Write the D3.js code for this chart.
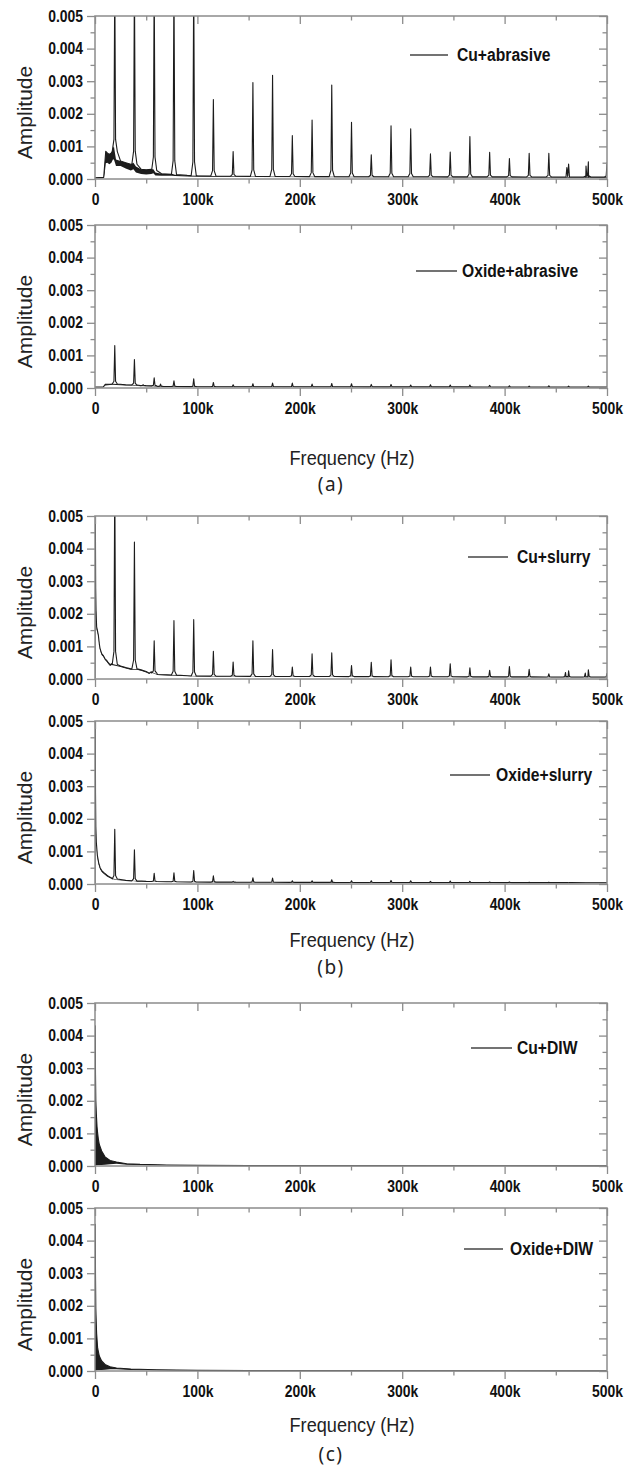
<!DOCTYPE html>
<html>
<head>
<meta charset="utf-8">
<script src="https://cdn.jsdelivr.net/npm/d3@7"></script>
<style>
  body { margin: 0; background: #fff; }
  svg { display: block; }
</style>
</head>
<body>
<script>
// Axis ticks and labels
const xTicks = [0, 100, 200, 300, 400, 500]              // kHz
const xTickLabels = ["0", "100k", "200k", "300k", "400k", "500k"]
const xMinorTicks = [50, 150, 250, 350, 450]
const yTicks = [0, 0.001, 0.002, 0.003, 0.004, 0.005]
const yTickLabels = ["0.000", "0.001", "0.002", "0.003", "0.004", "0.005"]
const yMinorTicks = [0.0005, 0.0015, 0.0025, 0.0035, 0.0045]

const seriesNames = ["Cu+abrasive", "Oxide+abrasive", "Cu+slurry", "Oxide+slurry", "Cu+DIW", "Oxide+DIW"]
const groupLabels = ["(a)", "(b)", "(c)"]

// Peak frequencies (kHz)
const harmonicFreqs = [19.3, 38.5, 57.8, 77.1, 96.4, 115.6, 134.9, 154.2, 173.4, 192.7, 212.0, 231.2, 250.5,
                       269.8, 289.1, 308.3, 327.6, 346.9, 366.1, 385.4, 404.7, 424.0, 443.2, 462.5, 481.8, 500.0]

// Peak amplitudes at those frequencies (values above 0.005 run off the top of the plot)
const cuAbrasivePeaks = [0.0062, 0.0062, 0.0062, 0.0062, 0.0062, 0.00244, 0.00084, 0.00296, 0.00318, 0.00133, 0.00181, 0.00288, 0.00174,
                         0.00074, 0.00163, 0.00154, 0.00077, 0.00083, 0.0013, 0.00082, 0.00063, 0.00079, 0.00079, 0.00046, 0.00053, 0.0005]
const oxideAbrasivePeaks = [0.0013, 0.00087, 0.00031, 0.00022, 0.00028, 0.00017, 0.0001, 0.00013, 0.00015, 0.00015, 0.00012, 0.00014, 0.00013,
                            0.00011, 0.00011, 0.00009, 0.0001, 0.00009, 0.00009, 0.00008, 0.00007, 0.00006, 0.00007, 0.00006, 0.00006, 0.00004]
const cuSlurryPeaks = [0.0062, 0.0042, 0.00117, 0.00179, 0.00182, 0.00085, 0.00052, 0.00117, 0.0009, 0.00037, 0.00077, 0.0008, 0.00041,
                       0.00051, 0.00059, 0.00037, 0.00037, 0.00047, 0.00034, 0.00027, 0.00038, 0.0003, 0.00016, 0.00025, 0.00028, 0.00017]
const oxideSlurryPeaks = [0.00168, 0.00105, 0.00033, 0.00034, 0.00041, 0.00025, 0.00008, 0.00019, 0.00018, 0.0001, 0.0001, 0.00013, 0.0001,
                          0.0001, 0.00011, 0.0001, 0.00008, 0.00009, 0.00008, 0.00006, 0.00006, 0.00005, 0.00005, 0.00004, 0.00004, 0.00004]
const noPeaks = []

// Side peaks [kHz, amplitude]
const cuAbrasiveSide = [[460.8, 0.00035], [479.5, 0.0004]]
const oxideAbrasiveSide = [[47, 0.0001], [64, 0.00012]]
const cuSlurrySide = [[459.5, 0.0002], [478.8, 0.00018]]

// Noise floor between peaks: [kHz, lower edge, upper edge]
const cuAbrasiveFloor = [
  [0, 0.00002, 0.00004], [8.5, 0.00002, 0.00005], [9.6, 0.0002, 0.0005], [10.5, 0.00048, 0.00085],
  [12, 0.0005, 0.0008], [14, 0.00045, 0.00075], [16, 0.0005, 0.0008], [17.5, 0.0006, 0.00095],
  [18.5, 0.0006, 0.001], [20.5, 0.0004, 0.0006], [25, 0.0004, 0.00055], [30, 0.00032, 0.0005],
  [35, 0.00026, 0.00045], [37.5, 0.0003, 0.0005], [40, 0.0002, 0.00038], [45, 0.00015, 0.0003],
  [50, 0.00014, 0.00028], [55, 0.00015, 0.0003], [57, 0.00018, 0.0003], [59, 0.00011, 0.0002],
  [65, 0.0001, 0.00016], [75, 0.0001, 0.00016], [78, 0.00009, 0.00013], [90, 0.00008, 0.00011],
  [100, 0.00007, 0.0001], [150, 0.00006, 0.00008], [250, 0.00005, 0.00007], [500, 0.00004, 0.00006]
]
const oxideAbrasiveFloor = [
  [0, 0.00002, 0.00003], [8, 0.00002, 0.00003], [10, 0.00008, 0.00011], [17, 0.0001, 0.00013],
  [21, 0.00009, 0.00012], [30, 0.00008, 0.0001], [37, 0.00008, 0.0001], [41, 0.00006, 0.00008],
  [50, 0.00005, 0.00007], [57, 0.00005, 0.00007], [60, 0.00004, 0.00005], [100, 0.00003, 0.00004],
  [500, 0.00002, 0.00003]
]
const cuSlurryFloor = [
  [0, 0.00002, 0.00002], [0.25, 0.0058, 0.0058], [0.65, 0.0027, 0.0028], [1.0, 0.002, 0.0021],
  [1.6, 0.0015, 0.0016], [2.3, 0.00145, 0.0015], [3.3, 0.0013, 0.00134], [4.2, 0.00104, 0.00108],
  [4.9, 0.0009, 0.00094], [6.5, 0.00074, 0.00078], [8.1, 0.00068, 0.00072], [9.8, 0.00058, 0.00062],
  [11.4, 0.00053, 0.00057], [13, 0.00046, 0.0005], [14.7, 0.0004, 0.00044], [16.3, 0.00043, 0.00047],
  [21, 0.0004, 0.00043], [25, 0.00037, 0.0004], [30, 0.00032, 0.00035], [35, 0.00028, 0.00031],
  [41, 0.00028, 0.00031], [45, 0.00025, 0.00028], [50, 0.0002, 0.00023], [53, 0.00015, 0.00018],
  [55, 0.0002, 0.00022], [61, 0.00012, 0.00014], [70, 0.00011, 0.00013], [80, 0.0001, 0.00012],
  [90, 0.00009, 0.0001], [100, 0.00008, 0.00009], [150, 0.00007, 0.00008], [300, 0.00006, 0.00007],
  [500, 0.00005, 0.00006]
]
const oxideSlurryFloor = [
  [0, 0.00002, 0.00002], [0.2, 0.0058, 0.0058], [0.5, 0.0027, 0.0028], [0.8, 0.0017, 0.00175],
  [1.3, 0.00122, 0.00128], [2.3, 0.00082, 0.00088], [3.6, 0.00059, 0.00065], [5, 0.00045, 0.0005],
  [6.8, 0.00036, 0.0004], [9, 0.0003, 0.00034], [11.7, 0.00023, 0.00027], [14, 0.00019, 0.00022],
  [16.6, 0.00015, 0.00018], [21, 0.00012, 0.00014], [30, 0.0001, 0.00011], [37, 0.00009, 0.0001],
  [41, 0.00008, 0.00009], [50, 0.00007, 0.00008], [70, 0.00006, 0.00007], [100, 0.00005, 0.00006],
  [200, 0.00004, 0.00005], [500, 0.00003, 0.00004]
]
const cuDiwFloor = [
  [0, 0, 0.00002], [0.2, 0.00002, 0.0043], [0.5, 0.00002, 0.0028], [0.8, 0.00002, 0.002],
  [1.3, 0.00002, 0.0016], [2.0, 0.00002, 0.0012], [2.6, 0.00003, 0.001], [3.3, 0.00003, 0.00082],
  [4.2, 0.00003, 0.00066], [6.5, 0.00003, 0.00046], [9.8, 0.00004, 0.00028], [14.7, 0.00005, 0.00017],
  [21, 0.00007, 0.00012], [31, 0.00004, 0.00007], [44, 0.00003, 0.00005], [70, 0.00002, 0.00003],
  [100, 0.00001, 0.00002], [150, 0.000005, 0.000012], [500, 0, 0.000005]
]
const oxideDiwFloor = [
  [0, 0, 0.00002], [0.2, 0.00002, 0.0045], [0.5, 0.00002, 0.0029], [0.8, 0.00002, 0.0019],
  [1.3, 0.00002, 0.0014], [1.6, 0.00002, 0.00115], [2.6, 0.00003, 0.0007], [4.2, 0.00003, 0.00046],
  [6.5, 0.00003, 0.00031], [9.8, 0.00004, 0.0002], [14.7, 0.00005, 0.00013], [21, 0.00005, 0.00009],
  [35, 0.00003, 0.00006], [60, 0.00002, 0.00004], [100, 0.00001, 0.00002], [150, 0.000005, 0.000012],
  [500, 0, 0.000005]
]

// ---- layout ----
const svg = d3.select("body").append("svg")
  .attr("width", 637)
  .attr("height", 1470)

const left = 95, right = 607, plotH = 163
const frameColor = "#8c8c8c"
const inkColor = "#1c1c1c"
const tickFont = "'Liberation Sans', Arial, sans-serif"

const x = d3.scaleLinear().domain([0, 500]).range([left, right])

const panels = [
  {peaks: cuAbrasivePeaks,    side: cuAbrasiveSide,    floor: cuAbrasiveFloor,    top: 16,   leg: {x1: 410, x2: 448, tx: 457, y: 55}},
  {peaks: oxideAbrasivePeaks, side: oxideAbrasiveSide, floor: oxideAbrasiveFloor, top: 225,  leg: {x1: 416, x2: 457, tx: 462, y: 271}},
  {peaks: cuSlurryPeaks,      side: cuSlurrySide,      floor: cuSlurryFloor,      top: 516,  leg: {x1: 468, x2: 508, tx: 517, y: 557}},
  {peaks: oxideSlurryPeaks,   side: [],                floor: oxideSlurryFloor,   top: 721,  leg: {x1: 450, x2: 490, tx: 496, y: 775}},
  {peaks: noPeaks,            side: [],                floor: cuDiwFloor,         top: 1003, leg: {x1: 471, x2: 512, tx: 517, y: 1048}},
  {peaks: noPeaks,            side: [],                floor: oxideDiwFloor,      top: 1208, leg: {x1: 464, x2: 503, tx: 510, y: 1249}}
]

const groupText = [
  {freqY: 458, labelY: 484},
  {freqY: 940, labelY: 967},
  {freqY: 1425, labelY: 1454}
]

// squeeze text horizontally, the original uses a condensed face
const narrow = (sel, k) => sel.each(function () {
  const w = this.getComputedTextLength()
  if (w > 0) d3.select(this).attr("textLength", w * k).attr("lengthAdjust", "spacingAndGlyphs")
})

// spike outline around each peak
const spikeBase = 2.5, spikeShoulder = 0.8, shoulderFrac = 0.07

const drawPanel = (p, i) => {
  const top = p.top, bottom = top + plotH
  const y = d3.scaleLinear().domain([0, 0.005]).range([bottom, top])
  const g = svg.append("g")

  svg.append("clipPath").attr("id", "clip" + i)
    .append("rect")
    .attr("x", left).attr("y", top)
    .attr("width", right - left).attr("height", plotH + 1)

  const plot = g.append("g").attr("clip-path", `url(#clip${i})`)

  // noise band
  plot.append("path")
    .datum(p.floor)
    .attr("fill", inkColor)
    .attr("d", d3.area().x(d => x(d[0])).y0(d => y(d[1])).y1(d => y(d[2])))

  // spectrum line: floor plus spikes
  const floorAt = d3.scaleLinear().domain(p.floor.map(d => d[0])).range(p.floor.map(d => d[2])).clamp(true)
  const peakList = p.peaks.map((a, k) => [harmonicFreqs[k], a]).concat(p.side)
  let pts = p.floor.filter(d => !peakList.some(pk => Math.abs(pk[0] - d[0]) < spikeBase)).map(d => [d[0], d[2]])
  peakList.forEach(([f, a]) => {
    const b = floorAt(f)
    const s = b + shoulderFrac * (a - b)
    pts.push([f - spikeBase, b], [f - spikeShoulder, s], [f, a], [f + spikeShoulder, s], [f + spikeBase, b])
  })
  pts.sort((a, b) => a[0] - b[0])

  plot.append("path")
    .datum(pts)
    .attr("fill", "none")
    .attr("stroke", inkColor)
    .attr("stroke-width", 1.1)
    .attr("stroke-linejoin", "round")
    .attr("d", d3.line().x(d => x(d[0])).y(d => y(d[1])))

  // frame
  g.append("rect")
    .attr("x", left).attr("y", top)
    .attr("width", right - left).attr("height", plotH)
    .attr("fill", "none")
    .attr("stroke", frameColor)
    .attr("stroke-width", 1.5)

  const styleAxis = (sel) => {
    sel.select(".domain").remove()
    sel.selectAll(".tick line").attr("stroke", frameColor).attr("stroke-width", 1.3)
    sel.attr("font-family", tickFont).attr("font-size", 16).attr("font-weight", "bold")
    sel.selectAll("text").attr("fill", "#111")
  }

  // left (outward) with labels
  g.append("g").attr("transform", `translate(${left},0)`)
    .call(d3.axisLeft(y).tickValues(yTicks).tickSize(8).tickPadding(4).tickFormat((d, k) => yTickLabels[k]))
    .call(styleAxis)
    .call(s => narrow(s.selectAll("text"), 0.87))
  g.append("g").attr("transform", `translate(${left},0)`)
    .call(d3.axisLeft(y).tickValues(yMinorTicks).tickSize(4.5).tickFormat(""))
    .call(styleAxis)
  // right (inward)
  g.append("g").attr("transform", `translate(${right},0)`)
    .call(d3.axisLeft(y).tickValues(yTicks).tickSize(8).tickFormat(""))
    .call(styleAxis)
  g.append("g").attr("transform", `translate(${right},0)`)
    .call(d3.axisLeft(y).tickValues(yMinorTicks).tickSize(4.5).tickFormat(""))
    .call(styleAxis)
  // bottom (outward) with labels
  g.append("g").attr("transform", `translate(0,${bottom})`)
    .call(d3.axisBottom(x).tickValues(xTicks).tickSize(8).tickPadding(7).tickFormat((d, k) => xTickLabels[k]))
    .call(styleAxis)
    .call(s => narrow(s.selectAll("text"), 0.87))
  g.append("g").attr("transform", `translate(0,${bottom})`)
    .call(d3.axisBottom(x).tickValues(xMinorTicks).tickSize(4.5).tickFormat(""))
    .call(styleAxis)
  // top (inward)
  g.append("g").attr("transform", `translate(0,${top})`)
    .call(d3.axisBottom(x).tickValues(xTicks).tickSize(8).tickFormat(""))
    .call(styleAxis)
  g.append("g").attr("transform", `translate(0,${top})`)
    .call(d3.axisBottom(x).tickValues(xMinorTicks).tickSize(4.5).tickFormat(""))
    .call(styleAxis)

  // y title
  g.append("text")
    .attr("transform", `translate(24,${top + plotH / 2 + 15}) rotate(-90)`)
    .attr("text-anchor", "middle")
    .attr("dominant-baseline", "central")
    .attr("font-family", tickFont)
    .attr("font-size", 21)
    .attr("fill", "#222")
    .text("Amplitude")

  // legend
  g.append("line")
    .attr("x1", p.leg.x1).attr("x2", p.leg.x2)
    .attr("y1", p.leg.y).attr("y2", p.leg.y)
    .attr("stroke", "#444").attr("stroke-width", 1.6)
  g.append("text")
    .attr("x", p.leg.tx).attr("y", p.leg.y)
    .attr("dy", "0.36em")
    .attr("font-family", tickFont)
    .attr("font-size", 18)
    .attr("font-weight", "bold")
    .attr("fill", "#111")
    .text(seriesNames[i])
    .call(s => narrow(s, 0.87))
}

panels.forEach(drawPanel)

// group captions
groupText.forEach((t, i) => {
  svg.append("text")
    .attr("x", 352).attr("y", t.freqY)
    .attr("dy", "0.35em")
    .attr("text-anchor", "middle")
    .attr("font-family", tickFont)
    .attr("font-size", 19.5)
    .attr("fill", "#222")
    .text("Frequency (Hz)")
    .call(s => narrow(s, 0.93))

  svg.append("text")
    .attr("x", 331).attr("y", t.labelY)
    .attr("dy", "0.35em")
    .attr("text-anchor", "middle")
    .attr("font-family", "'Noto Sans', 'Open Sans', sans-serif")
    .attr("font-size", 19)
    .attr("letter-spacing", 1.5)
    .attr("fill", "#222")
    .text(groupLabels[i])
})
</script>
</body>
</html>
